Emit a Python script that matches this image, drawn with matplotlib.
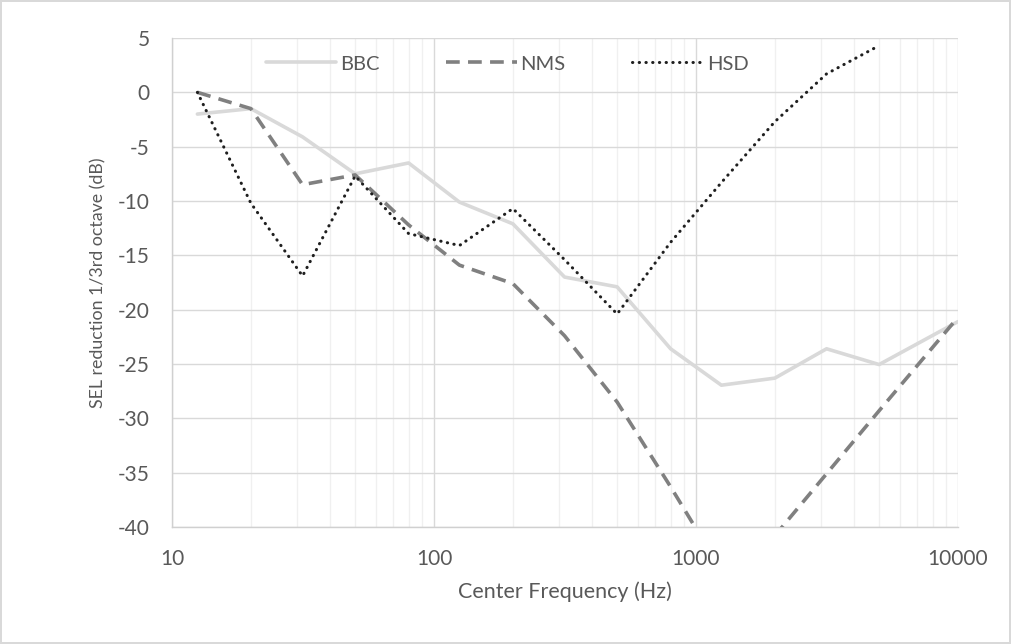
import matplotlib
matplotlib.use("Agg")
import matplotlib.pyplot as plt
from matplotlib.ticker import FixedLocator, NullFormatter, LogLocator

plt.rcParams['font.family'] = ['Lato', 'DejaVu Sans']
plt.rcParams['axes.unicode_minus'] = False

freq_bbc = [12.5, 20, 31.5, 50, 80, 125, 200, 315, 500, 800, 1250, 2000, 3150, 5000, 10000]
bbc = [-2.0, -1.5, -4.1, -7.5, -6.5, -10.1, -12.1, -17.0, -17.9, -23.6, -26.95, -26.3, -23.6, -25.05, -21.1]

freq_nms = [12.5, 20, 31.5, 50, 80, 125, 200, 315, 500, 800, 1250, 2000, 3150, 5000, 10000]
nms = [0.0, -1.5, -8.5, -7.6, -12.2, -15.9, -17.6, -22.4, -28.5, -36.3, -44.0, -40.8, -35.1, -29.3, -20.7]

freq_hsd = [12.5, 20, 31.5, 50, 80, 125, 200, 315, 500, 800, 1250, 2000, 3150, 5000]
hsd = [0.0, -10.2, -16.9, -7.7, -13.0, -14.1, -10.7, -15.4, -20.4, -13.8, -8.3, -2.7, 1.7, 4.3]

x_ticks = [10, 100, 1000, 10000]
x_tick_labels = ["10", "100", "1000", "10000"]
y_ticks = list(range(-40, 6, 5))

text_color = "#595959"

fig = plt.figure(figsize=(10.11, 6.44), dpi=100)
fig.patch.set_edgecolor("#d9d9d9")
fig.patch.set_linewidth(1.5)
ax = fig.add_axes([172/1011, 1-527/644, (958-172)/1011, (527-38)/644])

ax.plot(freq_bbc, bbc, color="#d9d9d9", lw=2.6, label="BBC", solid_capstyle="round", zorder=3)
ax.plot(freq_nms, nms, color="#808080", lw=2.6, dashes=(3.8, 2.3), label="NMS", zorder=4)
ax.plot(freq_hsd, hsd, color="#1f1f1f", lw=2.2, dashes=(0.1, 2.1), dash_capstyle="round", label="HSD", zorder=5)

ax.set_xscale("log")
ax.set_xlim(10, 10000)
ax.set_ylim(-40, 5)
ax.xaxis.set_major_locator(FixedLocator(x_ticks))
ax.set_xticklabels(x_tick_labels)
ax.xaxis.set_minor_locator(LogLocator(base=10, subs=[2, 3, 4, 5, 6, 7, 8, 9]))
ax.xaxis.set_minor_formatter(NullFormatter())
ax.set_yticks(y_ticks)

ax.grid(which="major", axis="both", color="#d9d9d9", lw=1.0, zorder=0)
ax.grid(which="minor", axis="x", color="#f0f0f0", lw=1.0, zorder=0)
ax.set_axisbelow(True)

for s in ["top", "right"]:
    ax.spines[s].set_visible(False)
for s in ["left", "bottom"]:
    ax.spines[s].set_color("#d0d0d0")
    ax.spines[s].set_linewidth(1.0)

ax.tick_params(which="both", length=0, colors=text_color, labelsize=15)
ax.tick_params(axis="x", pad=16)
ax.tick_params(axis="y", pad=16)

ax.set_xlabel("Center Frequency (Hz)", fontsize=15.5, color=text_color, labelpad=9)
ax.set_ylabel("SEL reduction 1/3rd octave (dB)", fontsize=12.8, color=text_color, labelpad=8)

handles, labels = ax.get_legend_handles_labels()
leg = fig.legend(handles, labels, loc="center", bbox_to_anchor=(507/1011, 1-64/644), ncol=3,
                 frameon=False, fontsize=14.5, handlelength=3.5, columnspacing=3.3,
                 handletextpad=0.2, labelcolor=text_color)

fig.savefig("out.png", dpi=100)
